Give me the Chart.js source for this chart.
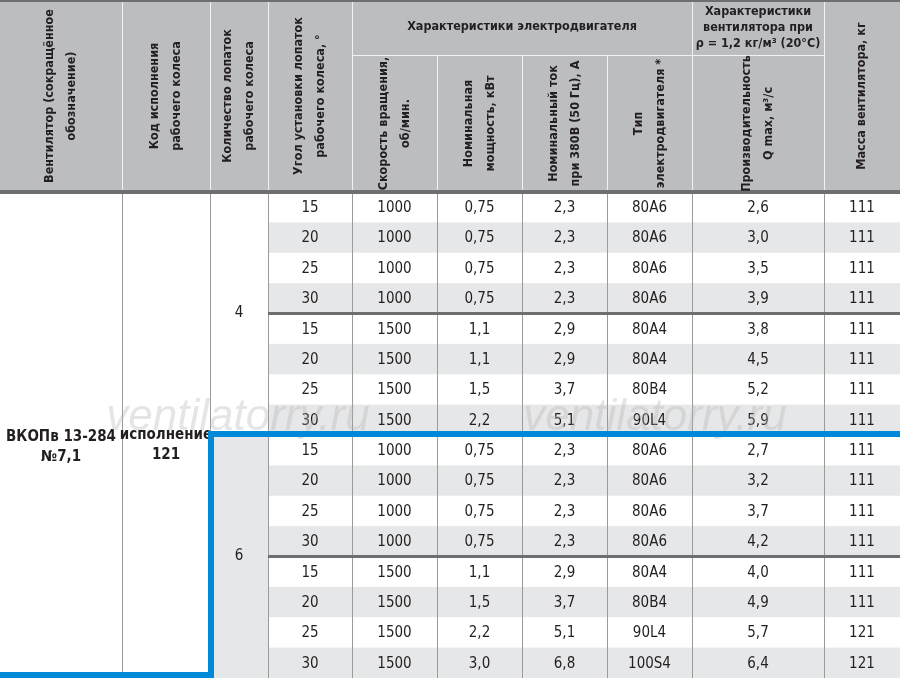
<!DOCTYPE html>
<html>
<head>
<meta charset="utf-8">
<script src="https://cdn.jsdelivr.net/npm/chart.js@4"></script>
<style>
  html, body { margin: 0; padding: 0; background: #fff; }
  #wrap { width: 900px; height: 678px; }
</style>
</head>
<body>
<div id="wrap"><canvas id="tbl"></canvas></div>
<script>
    // table data
    const headers = [
        ['Вентилятор (сокращённое', 'обозначение)'],
        ['Код исполнения', 'рабочего колеса'],
        ['Количество лопаток', 'рабочего колеса'],
        ['Угол установки лопаток', 'рабочего колеса, °'],
        ['Скорость вращения,', 'об/мин.'],
        ['Номинальная', 'мощность, кВт'],
        ['Номинальный ток', 'при 380В (50 Гц), А'],
        ['Тип', 'электродвигателя *'],
        ['Производительность', 'Q max, м³/с'],
        ['Масса вентилятора, кг']
    ];
    const groupMotor = 'Характеристики электродвигателя';
    const groupFan = ['Характеристики', 'вентилятора при', 'ρ = 1,2 кг/м³ (20°C)'];
    const fanName = ['ВКОПв 13-284', '№7,1'];
    const wheelCode = ['исполнение', '121'];
    const blades = ['4', '6'];
    const angles = [15, 20, 25, 30, 15, 20, 25, 30, 15, 20, 25, 30, 15, 20, 25, 30];
    const speeds = [1000, 1000, 1000, 1000, 1500, 1500, 1500, 1500, 1000, 1000, 1000, 1000, 1500, 1500, 1500, 1500];
    const power = ['0,75', '0,75', '0,75', '0,75', '1,1', '1,1', '1,5', '2,2', '0,75', '0,75', '0,75', '0,75', '1,1', '1,5', '2,2', '3,0'];
    const current = ['2,3', '2,3', '2,3', '2,3', '2,9', '2,9', '3,7', '5,1', '2,3', '2,3', '2,3', '2,3', '2,9', '3,7', '5,1', '6,8'];
    const motors = ['80A6', '80A6', '80A6', '80A6', '80A4', '80A4', '80B4', '90L4', '80A6', '80A6', '80A6', '80A6', '80A4', '80B4', '90L4', '100S4'];
    const flow = ['2,6', '3,0', '3,5', '3,9', '3,8', '4,5', '5,2', '5,9', '2,7', '3,2', '3,7', '4,2', '4,0', '4,9', '5,7', '6,4'];
    const mass = [111, 111, 111, 111, 111, 111, 111, 111, 111, 111, 111, 111, 111, 111, 121, 121];

    // layout
    const colEdges = [0, 122, 210, 268, 352, 437, 522, 607, 692, 824, 900];
    const headTop = 0, headMid = 55, headBottom = 192, tableBottom = 678;
    const FONT = '"Liberation Sans Narrow", "DejaVu Sans Condensed", sans-serif';

    const tablePlugin = {
        id: 'tablePlugin',
        beforeDraw(chart) {
            const ctx = chart.ctx;
            const xs = chart.scales.x, ys = chart.scales.y;
            const X = v => xs.getPixelForValue(v);
            const Y = v => ys.getPixelForValue(v);
            const rowH = (tableBottom - headBottom) / angles.length;
            const rowY = i => headBottom + i * rowH;

            ctx.save();
            ctx.fillStyle = '#fff';
            ctx.fillRect(X(0), Y(0), X(900) - X(0), Y(678) - Y(0));

            // header
            ctx.fillStyle = '#bcbdc0';
            ctx.fillRect(X(0), Y(headTop), X(900) - X(0), Y(headBottom) - Y(headTop));

            // row stripes
            angles.forEach((a, i) => {
                if (i % 2 === 1) {
                    ctx.fillStyle = '#e6e7e8';
                    ctx.fillRect(X(colEdges[3]), Y(rowY(i)), X(900) - X(colEdges[3]), Y(rowY(i + 1)) - Y(rowY(i)));
                }
            });
            ctx.fillStyle = '#e6e7e8';
            ctx.fillRect(X(colEdges[2]), Y(rowY(8)), X(colEdges[3]) - X(colEdges[2]), Y(tableBottom) - Y(rowY(8)));

            // header lines
            ctx.strokeStyle = '#f2f2f2';
            ctx.lineWidth = 1;
            colEdges.slice(1, -1).forEach(e => {
                const top = (e > 352 && e < 824 && e !== 692) ? headMid : headTop;
                ctx.beginPath(); ctx.moveTo(X(e) + 0.5, Y(top)); ctx.lineTo(X(e) + 0.5, Y(headBottom)); ctx.stroke();
            });
            ctx.beginPath(); ctx.moveTo(X(352), Y(headMid) + 0.5); ctx.lineTo(X(824), Y(headMid) + 0.5); ctx.stroke();

            // body lines
            ctx.strokeStyle = '#9a9a9a';
            colEdges.slice(1, -1).forEach(e => {
                ctx.beginPath(); ctx.moveTo(X(e) + 0.5, Y(headBottom)); ctx.lineTo(X(e) + 0.5, Y(tableBottom)); ctx.stroke();
            });
            ctx.strokeStyle = '#6d6e70';
            ctx.lineWidth = 3;
            [4, 12].forEach(i => {
                ctx.beginPath(); ctx.moveTo(X(colEdges[3]), Y(rowY(i))); ctx.lineTo(X(900), Y(rowY(i))); ctx.stroke();
            });
            ctx.lineWidth = 4;
            ctx.beginPath(); ctx.moveTo(X(0), Y(headBottom)); ctx.lineTo(X(900), Y(headBottom)); ctx.stroke();
            ctx.lineWidth = 2;
            ctx.beginPath(); ctx.moveTo(X(0), Y(1)); ctx.lineTo(X(900), Y(1)); ctx.stroke();

            // header text
            ctx.fillStyle = '#231f20';
            ctx.textAlign = 'center';
            ctx.textBaseline = 'middle';
            ctx.font = 'bold 12.5px ' + FONT;
            headers.forEach((h, c) => {
                const cx = (X(colEdges[c]) + X(colEdges[c + 1])) / 2;
                const top = (c >= 4 && c <= 8) ? headMid : headTop;
                const cy = (Y(top) + Y(headBottom)) / 2;
                ctx.save();
                ctx.translate(cx, cy);
                ctx.rotate(-Math.PI / 2);
                ctx.textAlign = 'center';
                h.forEach((line, k) => ctx.fillText(line, 0, (k - (h.length - 1) / 2) * 22));
                ctx.restore();
            });
            ctx.fillText(groupMotor, (X(352) + X(692)) / 2, Y(27));
            groupFan.forEach((line, k) => ctx.fillText(line, (X(692) + X(824)) / 2, Y(12 + k * 16)));

            // body text
            ctx.font = '15px ' + FONT;
            const cols = [angles, speeds, power, current, motors, flow, mass];
            angles.forEach((a, i) => {
                const cy = (Y(rowY(i)) + Y(rowY(i + 1))) / 2 + 1;
                cols.forEach((arr, k) => {
                    const cx = (X(colEdges[k + 3]) + X(colEdges[k + 4])) / 2;
                    ctx.fillText(String(arr[i]), cx, cy);
                });
            });
            ctx.fillText(blades[0], (X(210) + X(268)) / 2, Y(rowY(4)));
            ctx.fillText(blades[1], (X(210) + X(268)) / 2, Y(rowY(12)));

            ctx.font = 'bold 15px ' + FONT;
            fanName.forEach((t, k) => ctx.fillText(t, (X(0) + X(122)) / 2, Y(437 + k * 20)));
            wheelCode.forEach((t, k) => ctx.fillText(t, (X(122) + X(210)) / 2, Y(435 + k * 20)));

            // watermark
            ctx.font = 'italic 44px "Liberation Sans", sans-serif';
            ctx.fillStyle = 'rgba(180,180,180,0.35)';
            ctx.fillText('ventilatorry.ru', X(238), Y(418));
            ctx.fillText('ventilatorry.ru', X(655), Y(418));

            // blue frame
            ctx.fillStyle = '#0089d8';
            ctx.fillRect(X(208), Y(431), X(900) - X(208), 6);
            ctx.fillRect(X(208), Y(431), 6, Y(678) - Y(431));
            ctx.fillRect(X(0), Y(672), X(214) - X(0), 6);
            ctx.restore();
        }
    };

    new Chart(document.getElementById('tbl'), {
        type: 'scatter',
        data: { datasets: [{ data: [] }] },
        options: {
            responsive: true,
            maintainAspectRatio: false,
            animation: false,
            layout: { padding: 0 },
            plugins: { legend: { display: false }, tooltip: { enabled: false } },
            scales: {
                x: { type: 'linear', min: 0, max: 900, display: false },
                y: { type: 'linear', min: 0, max: 678, reverse: true, display: false }
            }
        },
        plugins: [tablePlugin]
    });
</script>
</body>
</html>
